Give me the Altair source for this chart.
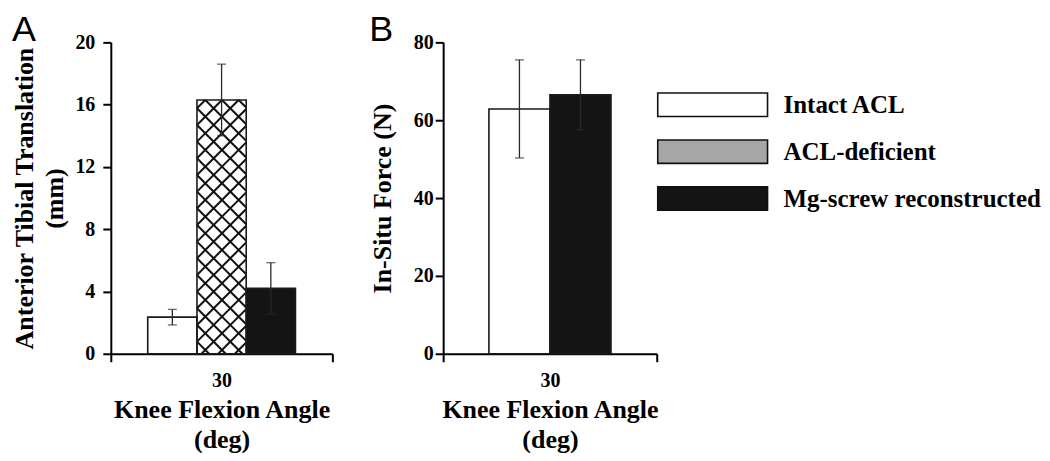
import altair as alt
import pandas as pd
import numpy as np

# ---- data ----
conditions = ["Intact ACL", "ACL-deficient", "Mg-screw reconstructed"]
att_mean = [2.35, 16.3, 4.2]
att_sd = [0.5, 2.3, 1.65]
force_conditions = ["Intact ACL", "Mg-screw reconstructed"]
force_mean = [62.9, 66.5]
force_sd = [12.6, 9.0]
angle_label = "30"
att_ticks = [0, 4, 8, 12, 16, 20]
force_ticks = [0, 20, 40, 60, 80]

bar_fill = {"Intact ACL": "#ffffff", "ACL-deficient": "#ffffff", "Mg-screw reconstructed": "#141414"}
legend_fill = {"Intact ACL": "#ffffff", "ACL-deficient": "#a6a6a6", "Mg-screw reconstructed": "#141414"}

SERIF = "Liberation Serif"
H = 312
A_W = 222
B_W = 214
OFF = 0.75
HATCH_PERIOD = 16.7


def bar_frame(names, means, sds):
    df = pd.DataFrame({"cond": names, "mean": means, "sd": sds})
    idx = np.arange(len(names))
    df["x0"] = OFF + idx
    df["x1"] = df["x0"] + 1
    df["xc"] = df["x0"] + 0.5
    df["lo"] = df["mean"] - df["sd"]
    df["hi"] = df["mean"] + df["sd"]
    df["fill"] = df["cond"].map(bar_fill)
    return df


def hatch_frame(row, xmax, ymax, width):
    pxx = width / xmax
    pxy = H / ymax
    W = (row["x1"] - row["x0"]) * pxx
    Ht = row["mean"] * pxy
    P = HATCH_PERIOD
    segs = []
    # slope +1 : u - v = c
    c0 = (P / 2 - Ht) % P
    c = c0 - P * np.ceil((Ht + c0) / P)
    while c < W:
        u1, u2 = max(0.0, c), min(W, Ht + c)
        if u2 > u1:
            segs.append((u1, u1 - c, u2, u2 - c))
        c += P
    # slope -1 : u + v = c
    c0 = (P / 2 + Ht) % P
    c = c0
    while c < W + Ht:
        u1, u2 = max(0.0, c - Ht), min(W, c)
        if u2 > u1:
            segs.append((u1, c - u1, u2, c - u2))
        c += P
    out = pd.DataFrame(segs, columns=["u1", "v1", "u2", "v2"])
    out["x"] = row["x0"] + out["u1"] / pxx
    out["x2"] = row["x0"] + out["u2"] / pxx
    out["y"] = out["v1"] / pxy
    out["y2"] = out["v2"] / pxy
    return out


def panel(df, ymax, yticks, width, ytitle, letter, lab_pad, ttl_pad, hatch_df=None):
    xmax = len(df) + 2 * OFF
    mid = xmax / 2
    xs = alt.Scale(domain=[0, xmax], nice=False, zero=False)
    ys = alt.Scale(domain=[0, ymax], nice=False)
    xaxis = alt.Axis(
        values=[0, mid, xmax],
        labelExpr=f"datum.value == {mid} ? '{angle_label}' : ''",
        tickColor={"condition": {"test": f"datum.value == {mid}", "value": "transparent"}, "value": "black"},
        title=["Knee Flexion Angle", "(deg)"],
        labelPadding=9, titlePadding=6, titleLineHeight=30, labelFlush=False,
    )
    yaxis = alt.Axis(values=yticks, title=ytitle, labelPadding=lab_pad, titlePadding=ttl_pad,
                     titleLineHeight=30)
    base = alt.Chart(df)
    bars = base.mark_rect().encode(
        x=alt.X("x0:Q", scale=xs, axis=xaxis), x2="x1:Q",
        y=alt.Y("mean:Q", scale=ys, axis=yaxis), y2=alt.datum(0),
        fill=alt.Fill("fill:N", scale=None),
    )
    layers = [bars]
    if hatch_df is not None:
        layers.append(alt.Chart(hatch_df).mark_rule(color="#111111", strokeWidth=2).encode(
            x="x:Q", x2="x2:Q", y="y:Q", y2="y2:Q"))
    layers.append(base.mark_rect(fillOpacity=0, stroke="#1a1a1a", strokeWidth=1.6).encode(
        x="x0:Q", x2="x1:Q", y="mean:Q", y2=alt.datum(0)))
    layers.append(base.mark_rule(color="#2a2a2a", strokeWidth=1.3).encode(
        x="xc:Q", y="lo:Q", y2="hi:Q"))
    for f in ["lo", "hi"]:
        layers.append(base.mark_tick(color="#2a2a2a", orient="horizontal", size=9, thickness=1.3).encode(
            x="xc:Q", y=f"{f}:Q"))
    return alt.layer(*layers).properties(
        width=width, height=H,
        title=alt.TitleParams(letter, anchor="start", frame="bounds", font="Liberation Sans",
                              fontSize=36, fontWeight="normal", color="black", offset=-17),
    )


att_df = bar_frame(conditions, att_mean, att_sd)
hatch = hatch_frame(att_df.iloc[1], len(att_df) + 2 * OFF, 20, A_W)
chart_a = panel(att_df, 20, att_ticks, A_W, ["Anterior Tibial Translation", "(mm)"], "A", 8, 7, hatch)

force_df = bar_frame(force_conditions, force_mean, force_sd)
plot_b = panel(force_df, 80, force_ticks, B_W, "In-Situ Force (N)", "B", 2, 18)

leg_df = pd.DataFrame({"cond": conditions})
leg_df["fill"] = leg_df["cond"].map(legend_fill)
leg_y = alt.Y("cond:N", scale=alt.Scale(domain=conditions, range=[39, 180], paddingInner=0.5, paddingOuter=0.25),
              axis=None)
leg_rect = alt.Chart(leg_df).mark_rect(stroke="#111111", strokeWidth=1.6).encode(
    x=alt.value(215), x2=alt.value(325), y=leg_y, fill=alt.Fill("fill:N", scale=None))
leg_text = alt.Chart(leg_df).mark_text(align="left", baseline="middle", font=SERIF, fontWeight="bold",
                                       fontSize=25, color="black").encode(
    x=alt.value(341), y=leg_y, text="cond:N")
legend = alt.layer(leg_rect, leg_text)

chart_b = alt.layer(plot_b, legend).resolve_scale(y="independent")

chart = alt.hconcat(chart_a, chart_b, spacing=36).properties(
    padding={"left": 4, "top": 4, "right": 0, "bottom": 0}
).configure_view(
    strokeWidth=0
).configure_axis(
    domainColor="black", domainWidth=2, tickColor="black", tickWidth=2, tickSize=8,
    labelFont=SERIF, labelFontWeight="bold", labelFontSize=20, labelColor="black",
    titleFont=SERIF, titleFontWeight="bold", titleFontSize=26, titleColor="black", grid=False,
)

chart.save("out.html", embed_options={"renderer": "svg", "actions": False})
